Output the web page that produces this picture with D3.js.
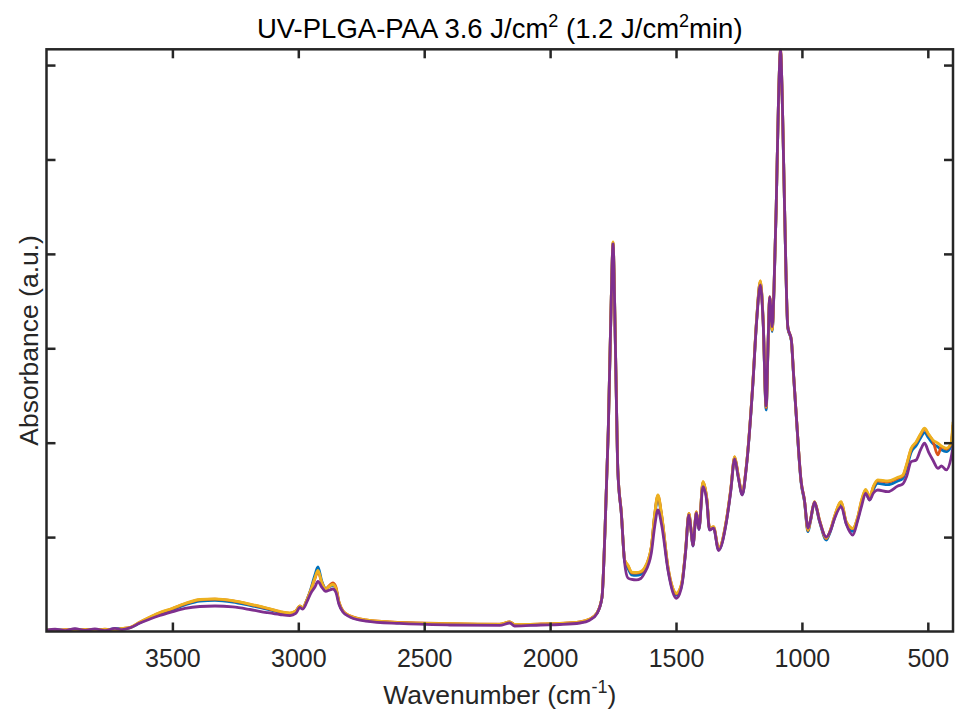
<!DOCTYPE html>
<html>
<head>
<meta charset="utf-8">
<script src="https://cdn.jsdelivr.net/npm/d3@7"></script>
<style>
  html, body { margin: 0; padding: 0; background: #ffffff; }
  svg { display: block; font-family: "Liberation Sans", Arial, Helvetica, sans-serif; }
</style>
</head>
<body>
<svg id="chart" width="955" height="713"></svg>
<script>
// wavenumber (cm^-1), shared by all four spectra
const wavenumbers = [
  4000, 3966, 3926, 3887, 3847, 3808, 3768, 3728, 3700, 3669,
  3629, 3589, 3550, 3502, 3450, 3391, 3331, 3260, 3192, 3125,
  3073, 3033, 3010, 2994, 2982, 2966, 2950, 2934, 2922, 2907,
  2891, 2875, 2863, 2851, 2839, 2823, 2795, 2732, 2597, 2399,
  2200, 2160, 2141, 2037, 1962, 1882, 1842, 1814, 1794, 1782,
  1769, 1757, 1750, 1744, 1737, 1731, 1717, 1704, 1691, 1676,
  1658, 1640, 1625, 1598, 1585, 1572, 1557, 1532, 1513, 1499,
  1486, 1475, 1462, 1449, 1440, 1433, 1419, 1409, 1393, 1377,
  1367, 1351, 1331, 1300, 1283, 1267, 1253, 1237, 1221, 1195,
  1180, 1165, 1154, 1142, 1134, 1128, 1118, 1111, 1102, 1093,
  1085, 1077, 1069, 1056, 1042, 1033, 1022, 1003, 990, 976,
  966, 950, 930, 903, 887, 871, 844, 824, 798, 778,
  763, 747, 731, 716, 699, 659, 619, 599, 585, 566,
  546, 529, 513, 497, 480, 460, 446, 427, 408, 400
];

const blueValues = [
  0.0016, 0.0020, 0.0012, 0.0026, 0.0010, 0.0022, 0.0014, 0.0030, 0.0028, 0.0040,
  0.0092, 0.0142, 0.0188, 0.0230, 0.0281, 0.0323, 0.0330, 0.0312, 0.0276, 0.0238,
  0.0203, 0.0188, 0.0210, 0.0268, 0.0252, 0.0334, 0.0452, 0.0599, 0.0683, 0.0535,
  0.0456, 0.0478, 0.0488, 0.0455, 0.0305, 0.0212, 0.0160, 0.0118, 0.0091, 0.0078,
  0.0072, 0.0098, 0.0070, 0.0075, 0.0081, 0.0097, 0.0128, 0.0192, 0.0360, 0.1070,
  0.2130, 0.3540, 0.4115, 0.3505, 0.2480, 0.1705, 0.1245, 0.0745, 0.0670, 0.0600,
  0.0594, 0.0605, 0.0650, 0.0885, 0.1215, 0.1420, 0.1215, 0.0668, 0.0440, 0.0385,
  0.0422, 0.0528, 0.0850, 0.1240, 0.1065, 0.0905, 0.1258, 0.1082, 0.1575, 0.1380,
  0.1080, 0.1098, 0.0868, 0.1168, 0.1485, 0.1838, 0.1645, 0.1450, 0.1735, 0.2615,
  0.3290, 0.3700, 0.3290, 0.2347, 0.3070, 0.3535, 0.3178, 0.3605, 0.4495, 0.5620,
  0.6140, 0.5515, 0.4495, 0.3215, 0.3078, 0.2705, 0.2262, 0.1572, 0.1378, 0.1057,
  0.1168, 0.1362, 0.1165, 0.0969, 0.1060, 0.1200, 0.1355, 0.1145, 0.1060, 0.1195,
  0.1365, 0.1470, 0.1395, 0.1505, 0.1568, 0.1555, 0.1595, 0.1620, 0.1725, 0.1900,
  0.1970, 0.2050, 0.2107, 0.2050, 0.1990, 0.1955, 0.1925, 0.1905, 0.1960, 0.2155
];

const orangeValues = [
  0.0014, 0.0011, 0.0020, 0.0013, 0.0022, 0.0015, 0.0024, 0.0017, 0.0031, 0.0041,
  0.0098, 0.0150, 0.0197, 0.0240, 0.0293, 0.0335, 0.0342, 0.0324, 0.0287, 0.0245,
  0.0209, 0.0193, 0.0215, 0.0268, 0.0253, 0.0333, 0.0442, 0.0560, 0.0636, 0.0520,
  0.0452, 0.0492, 0.0514, 0.0475, 0.0320, 0.0220, 0.0166, 0.0123, 0.0096, 0.0083,
  0.0077, 0.0102, 0.0075, 0.0080, 0.0086, 0.0102, 0.0133, 0.0196, 0.0364, 0.1073,
  0.2133, 0.3542, 0.4120, 0.3510, 0.2483, 0.1710, 0.1253, 0.0755, 0.0698, 0.0622,
  0.0618, 0.0628, 0.0668, 0.0895, 0.1230, 0.1440, 0.1230, 0.0682, 0.0458, 0.0400,
  0.0436, 0.0542, 0.0860, 0.1250, 0.1073, 0.0914, 0.1267, 0.1091, 0.1585, 0.1391,
  0.1091, 0.1108, 0.0879, 0.1179, 0.1497, 0.1850, 0.1656, 0.1462, 0.1744, 0.2627,
  0.3298, 0.3712, 0.3298, 0.2370, 0.3085, 0.3545, 0.3190, 0.3615, 0.4505, 0.5628,
  0.6150, 0.5523, 0.4505, 0.3223, 0.3086, 0.2716, 0.2273, 0.1585, 0.1391, 0.1070,
  0.1178, 0.1372, 0.1178, 0.0985, 0.1072, 0.1213, 0.1370, 0.1160, 0.1090, 0.1212,
  0.1385, 0.1498, 0.1420, 0.1532, 0.1596, 0.1585, 0.1624, 0.1648, 0.1755, 0.1932,
  0.2002, 0.2083, 0.2144, 0.2083, 0.2020, 0.1870, 0.1956, 0.1932, 0.1985, 0.2190
];

const yellowValues = [
  0.0016, 0.0011, 0.0018, 0.0013, 0.0021, 0.0016, 0.0023, 0.0018, 0.0032, 0.0042,
  0.0101, 0.0154, 0.0201, 0.0244, 0.0297, 0.0339, 0.0346, 0.0328, 0.0291, 0.0249,
  0.0212, 0.0196, 0.0217, 0.0270, 0.0254, 0.0334, 0.0440, 0.0567, 0.0646, 0.0524,
  0.0450, 0.0482, 0.0498, 0.0461, 0.0313, 0.0217, 0.0164, 0.0122, 0.0095, 0.0082,
  0.0076, 0.0101, 0.0074, 0.0079, 0.0085, 0.0101, 0.0132, 0.0196, 0.0365, 0.1075,
  0.2135, 0.3543, 0.4126, 0.3511, 0.2484, 0.1711, 0.1255, 0.0757, 0.0704, 0.0630,
  0.0625, 0.0636, 0.0673, 0.0898, 0.1234, 0.1446, 0.1234, 0.0686, 0.0461, 0.0405,
  0.0440, 0.0546, 0.0863, 0.1252, 0.1075, 0.0916, 0.1269, 0.1093, 0.1587, 0.1393,
  0.1093, 0.1110, 0.0881, 0.1181, 0.1499, 0.1852, 0.1658, 0.1464, 0.1746, 0.2629,
  0.3300, 0.3716, 0.3300, 0.2381, 0.3088, 0.3547, 0.3194, 0.3618, 0.4507, 0.5630,
  0.6165, 0.5525, 0.4507, 0.3225, 0.3088, 0.2718, 0.2275, 0.1587, 0.1393, 0.1075,
  0.1181, 0.1375, 0.1181, 0.0990, 0.1075, 0.1216, 0.1375, 0.1163, 0.1093, 0.1216,
  0.1393, 0.1506, 0.1428, 0.1541, 0.1605, 0.1594, 0.1633, 0.1658, 0.1764, 0.1941,
  0.2011, 0.2092, 0.2153, 0.2092, 0.2029, 0.1994, 0.1965, 0.1941, 0.1994, 0.2222
];

const purpleValues = [
  0.0011, 0.0024, 0.0008, 0.0030, 0.0012, 0.0027, 0.0009, 0.0033, 0.0020, 0.0038,
  0.0090, 0.0132, 0.0169, 0.0207, 0.0244, 0.0265, 0.0270, 0.0260, 0.0233, 0.0201,
  0.0180, 0.0169, 0.0191, 0.0254, 0.0238, 0.0313, 0.0408, 0.0471, 0.0530, 0.0471,
  0.0424, 0.0440, 0.0450, 0.0418, 0.0291, 0.0207, 0.0154, 0.0111, 0.0085, 0.0069,
  0.0064, 0.0090, 0.0058, 0.0069, 0.0074, 0.0090, 0.0122, 0.0190, 0.0360, 0.1070,
  0.2130, 0.3540, 0.4105, 0.3505, 0.2480, 0.1705, 0.1245, 0.0726, 0.0567, 0.0551,
  0.0546, 0.0561, 0.0620, 0.0832, 0.1107, 0.1287, 0.1128, 0.0651, 0.0418, 0.0352,
  0.0397, 0.0514, 0.0842, 0.1234, 0.1064, 0.0906, 0.1255, 0.1081, 0.1534, 0.1361,
  0.1075, 0.1096, 0.0858, 0.1160, 0.1478, 0.1827, 0.1637, 0.1446, 0.1732, 0.2612,
  0.3279, 0.3671, 0.3279, 0.2389, 0.3088, 0.3543, 0.3229, 0.3618, 0.4507, 0.5630,
  0.6160, 0.5525, 0.4507, 0.3225, 0.3088, 0.2718, 0.2275, 0.1587, 0.1393, 0.1096,
  0.1181, 0.1370, 0.1171, 0.1001, 0.1064, 0.1192, 0.1322, 0.1139, 0.1022, 0.1181,
  0.1329, 0.1464, 0.1393, 0.1467, 0.1499, 0.1481, 0.1541, 0.1563, 0.1637, 0.1799,
  0.1817, 0.1923, 0.1994, 0.1901, 0.1817, 0.1729, 0.1753, 0.1711, 0.1835, 0.1958
];

// MATLAB default order: later series drawn on top
const seriesNames = ["s1", "s2", "s3", "s4"];
const seriesColors = ["#0072BD", "#D95319", "#EDB120", "#7E2F8E"];
const seriesValues = [blueValues, orangeValues, yellowValues, purpleValues];

const xTicks = [3500, 3000, 2500, 2000, 1500, 1000, 500];
const yTicks = [0.1, 0.2, 0.3, 0.4, 0.5, 0.6];
const xDomain = [4000, 400];
const yDomain = [0, 0.6167];

const W = 955, H = 713;
const margin = { top: 49.3, right: 2, bottom: 81.5, left: 46.5 };
const innerW = W - margin.left - margin.right;
const innerH = H - margin.top - margin.bottom;
const axisColor = "#262626";
const tickLen = 9;

const svg = d3.select("#chart");
const root = svg.append("g").attr("transform", `translate(${margin.left},${margin.top})`);

const x = d3.scaleLinear().domain(xDomain).range([0, innerW]);
const y = d3.scaleLinear().domain(yDomain).range([innerH, 0]);

// clip so lines stay inside the box
svg.append("defs").append("clipPath").attr("id", "plot-clip")
  .append("rect").attr("x", 0).attr("y", -1).attr("width", innerW).attr("height", innerH + 1);

const linesLayer = root.append("g").attr("clip-path", "url(#plot-clip)");
const line = d3.line()
  .x((d) => x(d[0]))
  .y((d) => y(d[1]))
  .curve(d3.curveMonotoneX);

seriesNames.forEach((name, i) => {
  const pts = wavenumbers.map((w, j) => [w, seriesValues[i][j]]);
  linesLayer.append("path")
    .datum(pts)
    .attr("class", `spectrum ${name}`)
    .attr("fill", "none")
    .attr("stroke", seriesColors[i])
    .attr("stroke-width", 2.8)
    .attr("stroke-linejoin", "round")
    .attr("d", line);
});

// axes: bottom with labels, top/left/right ticks only (box on, ticks inside)
const gx = root.append("g").attr("transform", `translate(0,${innerH})`)
  .call(d3.axisBottom(x).tickValues(xTicks).tickFormat(d3.format("d"))
    .tickSize(-tickLen).tickPadding(18).tickSizeOuter(0));
const gxTop = root.append("g")
  .call(d3.axisTop(x).tickValues(xTicks).tickSize(-tickLen).tickFormat("").tickSizeOuter(0));
const gy = root.append("g")
  .call(d3.axisLeft(y).tickValues(yTicks).tickSize(-tickLen).tickFormat("").tickSizeOuter(0));
const gyRight = root.append("g").attr("transform", `translate(${innerW},0)`)
  .call(d3.axisRight(y).tickValues(yTicks).tickSize(-tickLen).tickFormat("").tickSizeOuter(0));

[gx, gxTop, gy, gyRight].forEach((g) => {
  g.select(".domain").remove();
  g.selectAll("line").attr("stroke", axisColor).attr("stroke-width", 2.5);
});
gx.selectAll("text")
  .attr("fill", axisColor)
  .style("font-size", "25px")
  .style("font-family", "'Liberation Sans', Arial, sans-serif");

root.append("rect")
  .attr("x", 0).attr("y", 0)
  .attr("width", innerW).attr("height", innerH)
  .attr("fill", "none")
  .attr("stroke", axisColor)
  .attr("stroke-width", 2.5);

// title, superscripts shifted by fixed px so the baseline comes back exactly
const title = svg.append("text")
  .attr("x", margin.left + innerW / 2)
  .attr("y", 38)
  .attr("text-anchor", "middle")
  .attr("fill", "#000000")
  .style("font-size", "27.5px");
title.append("tspan").text("UV-PLGA-PAA 3.6 J/cm");
title.append("tspan").attr("dy", -11).style("font-size", "18px").text("2");
title.append("tspan").attr("dy", 11).text(" (1.2 J/cm");
title.append("tspan").attr("dy", -11).style("font-size", "18px").text("2");
title.append("tspan").attr("dy", 11).text("min)");

// x label
const xLabel = svg.append("text")
  .attr("x", margin.left + innerW / 2)
  .attr("y", 704)
  .attr("text-anchor", "middle")
  .attr("fill", axisColor)
  .style("font-size", "26.5px");
xLabel.append("tspan").text("Wavenumber (cm");
xLabel.append("tspan").attr("dy", -11).style("font-size", "18px").text("-1");
xLabel.append("tspan").attr("dy", 11).text(")");

// y label
svg.append("text")
  .attr("transform", `translate(38,${margin.top + innerH / 2}) rotate(-90)`)
  .attr("text-anchor", "middle")
  .attr("fill", axisColor)
  .style("font-size", "26.5px")
  .text("Absorbance (a.u.)");
</script>
</body>
</html>
